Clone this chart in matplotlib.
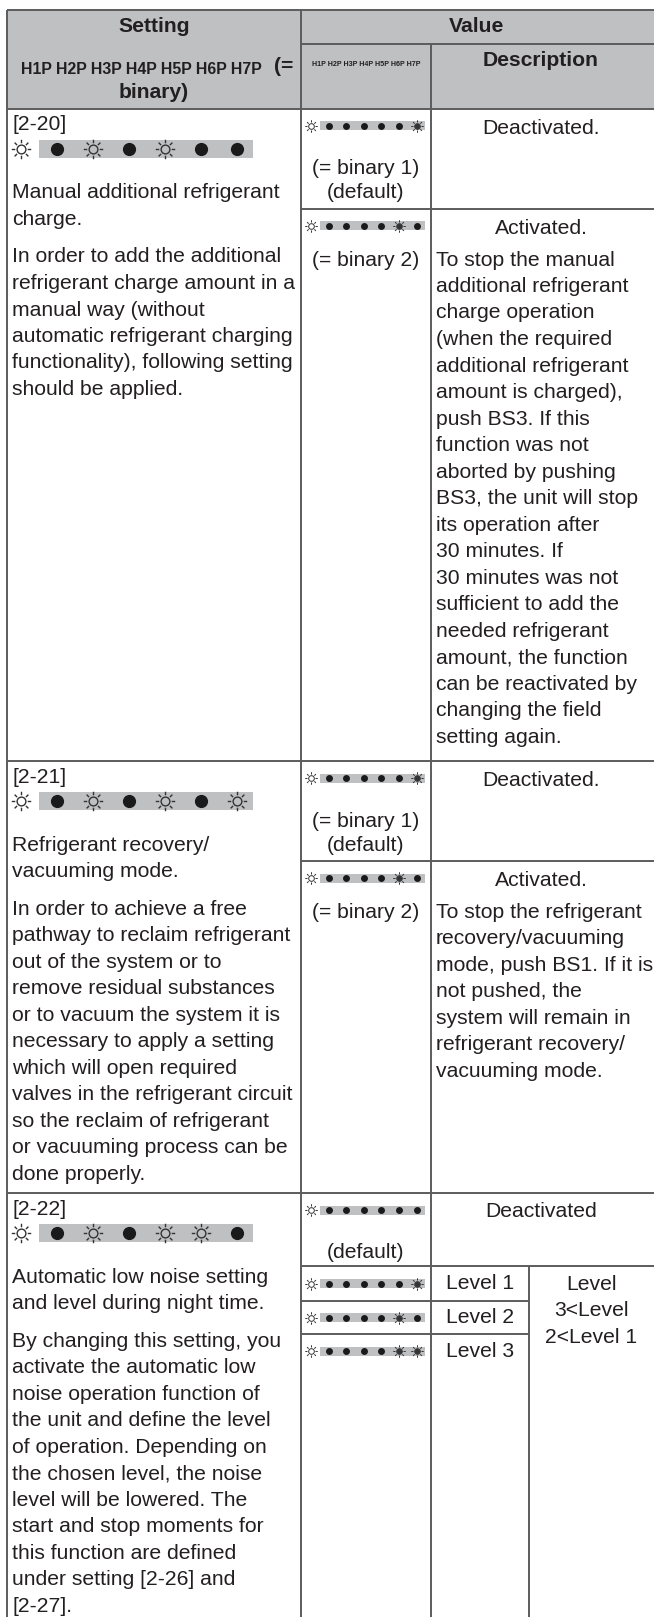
import matplotlib
matplotlib.use("Agg")
import matplotlib.pyplot as plt
import numpy as np
from matplotlib.path import Path
from matplotlib.patches import Rectangle

# ---------------- data ----------------
codes = ["[2-20]", "[2-21]", "[2-22]"]
big_leds = ["SOSOSOO", "SOSOSOS", "SOSOSSO"]
titles = [["Manual additional refrigerant", "charge."],
          ["Refrigerant recovery/", "vacuuming mode."],
          ["Automatic low noise setting", "and level during night time."]]
paras = [["In order to add the additional", "refrigerant charge amount in a",
          "manual way (without", "automatic refrigerant charging",
          "functionality), following setting", "should be applied."],
         ["In order to achieve a free", "pathway to reclaim refrigerant",
          "out of the system or to", "remove residual substances",
          "or to vacuum the system it is", "necessary to apply a setting",
          "which will open required", "valves in the refrigerant circuit",
          "so the reclaim of refrigerant", "or vacuuming process can be",
          "done properly."],
         ["By changing this setting, you", "activate the automatic low",
          "noise operation function of", "the unit and define the level",
          "of operation. Depending on", "the chosen level, the noise",
          "level will be lowered. The", "start and stop moments for",
          "this function are defined", "under setting [2-26] and", "[2-27]."]]

# value sub-rows (rows 1 & 2)
val_leds = ["SOOOOOB", "SOOOOBO"]
val_labels = [["(= binary 1)", "(default)"], ["(= binary 2)"]]
val_titles = ["Deactivated.", "Activated."]
act_desc = [["To stop the manual", "additional refrigerant", "charge operation",
             "(when the required", "additional refrigerant", "amount is charged),",
             "push BS3. If this", "function was not", "aborted by pushing",
             "BS3, the unit will stop", "its operation after", "30 minutes. If",
             "30 minutes was not", "sufficient to add the", "needed refrigerant",
             "amount, the function", "can be reactivated by", "changing the field",
             "setting again."],
            ["To stop the refrigerant", "recovery/vacuuming", "mode, push BS1. If it is",
             "not pushed, the", "system will remain in", "refrigerant recovery/",
             "vacuuming mode."]]
# row 3
r3_led = "SOOOOOO"
r3_label = "(default)"
r3_title = "Deactivated"
level_leds = ["SOOOOOB", "SOOOOBO", "SOOOOBB"]
level_names = ["Level 1", "Level 2", "Level 3"]
level_note = ["Level", "3<Level", "2<Level 1"]

hdr_left = "H1P H2P H3P H4P H5P H6P H7P"

# ---------------- style ----------------
W, H = 654, 1617
TXT = "#231f20"
LINE = "#5c5c5c"
GRAY = "#bec0c2"
FS = 15.2          # body font (pt at 100 dpi)
FONT = "Liberation Sans"
P = 26.5           # line pitch (px)

fig = plt.figure(figsize=(W / 100, H / 100), dpi=100)
ax = fig.add_axes([0, 0, 1, 1])
ax.set_xlim(0, W)
ax.set_ylim(H, 0)
ax.axis("off")


def sun_path():
    circ = Path.unit_circle()
    circ = Path(circ.vertices * 0.45, circ.codes)
    verts, cds = [], []
    for k in range(8):
        a = k * np.pi / 4
        verts += [(0.64 * np.cos(a), 0.64 * np.sin(a)), (np.cos(a), np.sin(a))]
        cds += [Path.MOVETO, Path.LINETO]
    rays = Path(verts, cds)
    return Path.make_compound_path(circ, rays)


SUN = sun_path()


def draw_leds(pattern, x0, step, y, bar_h, dot_ms, sun_ms, lw):
    xs = x0 + step * np.arange(len(pattern))
    ax.add_patch(Rectangle((xs[1] - step / 2, y - bar_h / 2),
                           xs[-1] - xs[1] + step * 0.95, bar_h,
                           facecolor=GRAY, edgecolor="none", zorder=1))
    for x, s in zip(xs, pattern):
        if s == "O":
            ax.plot(x, y, "o", ms=dot_ms, color="#1a1a1a", mec="none", zorder=3)
        elif s == "S":
            ax.plot(x, y, marker=SUN, ms=sun_ms, mfc="none", mec="#333333",
                    mew=lw, zorder=3)
        else:
            ax.plot(x, y, marker=SUN, ms=sun_ms, mfc="none", mec="#333333",
                    mew=lw, zorder=3)
            ax.plot(x, y, "o", ms=sun_ms * 0.42, color="#333333", mec="none", zorder=4)


def txt(x, y, s, ha="left", size=FS, weight="normal", **kw):
    ax.text(x, y, s, ha=ha, va="center", fontsize=size, color=TXT,
            family=FONT, fontweight=weight, **kw)


# ---------------- header ----------------
XL, XS, XV, XLV, XR = 7, 301, 431, 529, 660
ax.add_patch(Rectangle((XL, 10), XR - XL, 99, facecolor=GRAY, edgecolor="none", zorder=0))
txt(154, 27, "Setting", ha="center", weight="bold")
txt(477, 27, "Value", ha="center", weight="bold")
txt(21, 70, hdr_left, size=11.4, weight="bold")
txt(274, 67, "(=", size=FS, weight="bold")
txt(154, 93, "binary)", ha="center", weight="bold")
txt(366, 65, hdr_left, ha="center", size=5.1, weight="bold")
txt(541, 61, "Description", ha="center", weight="bold")

# ---------------- grid lines ----------------
hl = [(10, XL, XR), (44, XS, XR), (109, XL, XR), (209, XS, XR), (761, XL, XR),
      (861, XS, XR), (1193, XL, XR), (1266, XS, XR), (1301, XS, XLV), (1334, XS, XLV)]
for y, a, b in hl:
    ax.plot([a, b], [y, y], color=LINE, lw=1.4, solid_capstyle="butt", zorder=5)
vl = [(XL, 10, H), (XS, 10, H), (XV, 44, H), (XLV, 1266, H)]
for x, a, b in vl:
    ax.plot([x, x], [a, b], color=LINE, lw=1.4, solid_capstyle="butt", zorder=5)

# ---------------- left column ----------------
row_tops = [109, 761, 1193]
for i, top in enumerate(row_tops):
    txt(12, top + 16, codes[i])
    draw_leds(big_leds[i], 21, 36, top + 40, 18, 9.5, 14, 1.0)
    for j, s in enumerate(titles[i]):
        txt(12, top + 84 + j * P, s)
    for j, s in enumerate(paras[i]):
        txt(12, top + 148 + j * P, s)

# ---------------- value rows 1, 2 ----------------
for i, top in enumerate([109, 761]):
    sub_tops = [top, top + 100]
    for k, st in enumerate(sub_tops):
        ly = st + 17
        draw_leds(val_leds[k], 311, 17.6, ly, 9, 5.0, 9.0, 0.7)
        txt(541, ly + 2, val_titles[k], ha="center")
        start = st + 60 if k == 0 else st + 51
        for j, s in enumerate(val_labels[k]):
            txt(366, start + j * 24, s, ha="center")
        if k == 1:
            for j, s in enumerate(act_desc[i]):
                txt(436, start + j * P, s)

# ---------------- value row 3 ----------------
top = 1193
draw_leds(r3_led, 311, 17.6, top + 17, 9, 5.0, 9.0, 0.7)
txt(541, top + 18, r3_title, ha="center")
txt(366, top + 59, r3_label, ha="center")
lv_centers = [1283.5, 1317.5, 1351]
for yc, pat, nm in zip(lv_centers, level_leds, level_names):
    draw_leds(pat, 311, 17.6, yc, 9, 5.0, 9.0, 0.7)
    txt(480, yc, nm, ha="center")
for j, s in enumerate(level_note):
    txt(591, 1284 + j * P, s, ha="center")

fig.savefig("out.png", dpi=100)
